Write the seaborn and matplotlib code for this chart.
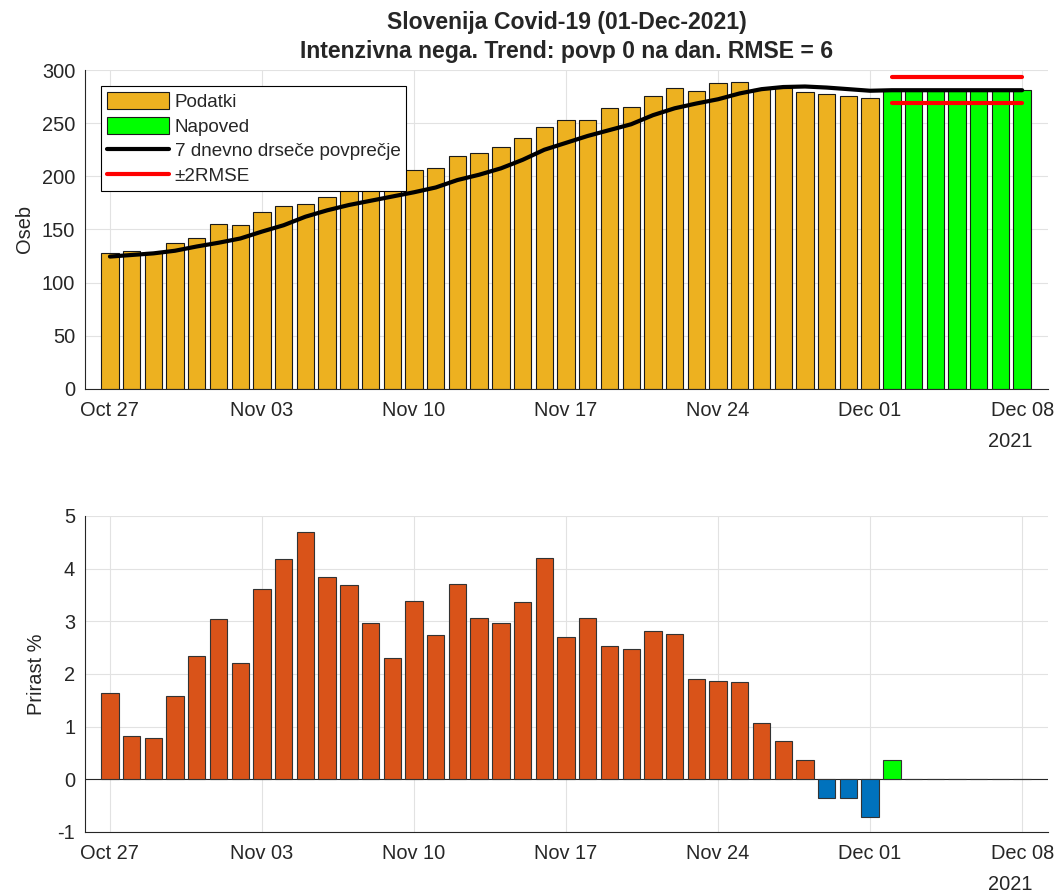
import matplotlib
matplotlib.use("Agg")
import matplotlib.pyplot as plt
import matplotlib.transforms as mtransforms
from matplotlib.patches import Patch
from matplotlib.lines import Line2D
import seaborn as sns

# Oznake na x osi (vsak 7. dan) in leto pod zadnjo oznako
TICK_LABELS = ["Oct 27", "Nov 03", "Nov 10", "Nov 17", "Nov 24", "Dec 01", "Dec 08"]
YEAR_LABEL = "2021"

# Intenzivna nega - podatki od 27. okt do 1. dec
PODATKI = [128, 130, 129, 137, 142, 155, 154, 166, 172, 174, 181, 187, 189, 191,
           206, 208, 219, 222, 228, 236, 246, 253, 253, 264, 265, 276, 283, 280,
           288, 289, 282, 283, 279, 277, 276, 274]
# Napoved 2. - 8. dec
NAPOVED = [281, 281, 281, 281, 281, 281, 281]
RMSE = 6

# 7 dnevno drseče povprečje (podatki + napoved)
TREND = [124.5, 126, 127.5, 130, 134, 137.5, 141.5, 148, 154, 162, 168, 173, 177, 181,
         185, 189.5, 196.5, 201.5, 207.5, 215.5, 225, 231.5, 238, 243.5, 249, 257.5,
         264, 268.5, 272.5, 278, 282, 284, 284.5, 283.5, 282, 280.5,
         281, 281, 281, 281, 281, 281, 281]

# Prirast % (podatki in napoved)
PRIRAST = [1.64, 0.82, 0.79, 1.58, 2.34, 3.04, 2.21, 3.61, 4.18, 4.69, 3.84, 3.69,
           2.97, 2.30, 3.39, 2.73, 3.71, 3.07, 2.97, 3.37, 4.20, 2.70, 3.06, 2.54,
           2.48, 2.82, 2.75, 1.90, 1.86, 1.85, 1.07, 0.72, 0.36, -0.35, -0.35, -0.71]
PRIRAST_NAPOVED = [0.36, 0, 0, 0, 0, 0, 0]

C_PODATKI = "#EDB120"
C_NAPOVED = "#00FF00"
C_RAST = "#D95319"
C_PADEC = "#0072BD"
C_AX = "#262626"

n_data = len(PODATKI)
dni = list(range(n_data + len(NAPOVED)))
dni_data = dni[:n_data]
dni_napoved = dni[n_data:]

sns.set_style("white")
plt.rcParams["font.family"] = ["Liberation Sans", "DejaVu Sans"]
plt.rcParams["axes.unicode_minus"] = False

fig = plt.figure(figsize=(10.62, 8.92), dpi=100)
ax1 = fig.add_axes([0.080, 0.564, 0.907, 0.3575])
ax2 = fig.add_axes([0.080, 0.0673, 0.907, 0.3543])

# --- zgornji graf ---
sns.barplot(x=dni_data, y=PODATKI, order=dni, color=C_PODATKI, saturation=1,
            width=0.8, edgecolor="#1a1a1a", linewidth=0.8, ax=ax1)
sns.barplot(x=dni_napoved, y=NAPOVED, order=dni, color=C_NAPOVED, saturation=1,
            width=0.8, edgecolor="#1a1a1a", linewidth=0.8, ax=ax1)
sns.lineplot(x=dni, y=TREND, color="black", linewidth=3, ax=ax1)
meje = [dni_napoved[0], dni_napoved[-1]]
for y in (NAPOVED[0] + 2 * RMSE, NAPOVED[0] - 2 * RMSE):
    sns.lineplot(x=meje, y=[y, y], color="red", linewidth=3, ax=ax1)
ax1.set_ylim(0, 300)
ax1.set_yticks(range(0, 301, 50))
ax1.set_ylabel("Oseb", fontsize=14.4, color=C_AX, labelpad=6)
ax1.set_title("Slovenija Covid-19 (01-Dec-2021)\n"
              "Intenzivna nega. Trend: povp 0 na dan. RMSE = 6",
              fontsize=16.6, fontweight="bold", pad=9, linespacing=1.3)

handles = [
    Patch(facecolor=C_PODATKI, edgecolor="#1a1a1a", linewidth=0.8),
    Patch(facecolor=C_NAPOVED, edgecolor="#1a1a1a", linewidth=0.8),
    Line2D([], [], color="black", linewidth=3),
    Line2D([], [], color="red", linewidth=3),
]
labels = ["Podatki", "Napoved", "7 dnevno drseče povprečje", "±2RMSE"]
leg = ax1.legend(handles, labels, loc="upper left", bbox_to_anchor=(0.0166, 0.95),
                 fontsize=13.6, fancybox=False, framealpha=1, edgecolor="black",
                 handlelength=3.3, handleheight=1.0, handletextpad=0.3,
                 labelspacing=0.32, borderpad=0.3, borderaxespad=0)
leg.get_frame().set_linewidth(0.8)

# --- spodnji graf ---
rast_x = [d for d, v in zip(dni_data, PRIRAST) if v >= 0]
rast_y = [v for v in PRIRAST if v >= 0]
padec_x = [d for d, v in zip(dni_data, PRIRAST) if v < 0]
padec_y = [v for v in PRIRAST if v < 0]
ax2.axhline(0, color=C_AX, linewidth=0.8, zorder=1)
sns.barplot(x=rast_x, y=rast_y, order=dni, color=C_RAST, saturation=1,
            width=0.8, edgecolor="#333333", linewidth=0.8, ax=ax2)
sns.barplot(x=padec_x, y=padec_y, order=dni, color=C_PADEC, saturation=1,
            width=0.8, edgecolor="#333333", linewidth=0.8, ax=ax2)
sns.barplot(x=dni_napoved, y=PRIRAST_NAPOVED, order=dni, color=C_NAPOVED, saturation=1,
            width=0.8, edgecolor="#333333", linewidth=0.8, ax=ax2)
ax2.set_ylim(-1, 5)
ax2.set_yticks(range(-1, 6))
ax2.set_ylabel("Prirast %", fontsize=14.4, color=C_AX, labelpad=8)

for ax in (ax1, ax2):
    ax.set_xlim(-1.15, 43.2)
    ax.set_xticks(dni[::7])
    ax.set_xticklabels(TICK_LABELS)
    ax.set_xlabel("")
    ax.grid(True, color="#e2e2e2", linewidth=0.8)
    ax.set_axisbelow(True)
    for s in ("top", "right"):
        ax.spines[s].set_visible(False)
    for s in ("left", "bottom"):
        ax.spines[s].set_color(C_AX)
        ax.spines[s].set_linewidth(0.8)
    ax.tick_params(direction="in", length=7, width=0.8, color=C_AX,
                   labelsize=14.4, labelcolor=C_AX)
    ax.tick_params(axis="x", pad=9)
    ax.tick_params(axis="y", pad=7)
    trans = mtransforms.blended_transform_factory(ax.transData, ax.transAxes)
    ax.text(41.45, -0.165, YEAR_LABEL, transform=trans, ha="center", va="center",
            fontsize=14.4, color=C_AX)

fig.savefig("out.png", dpi=100)
